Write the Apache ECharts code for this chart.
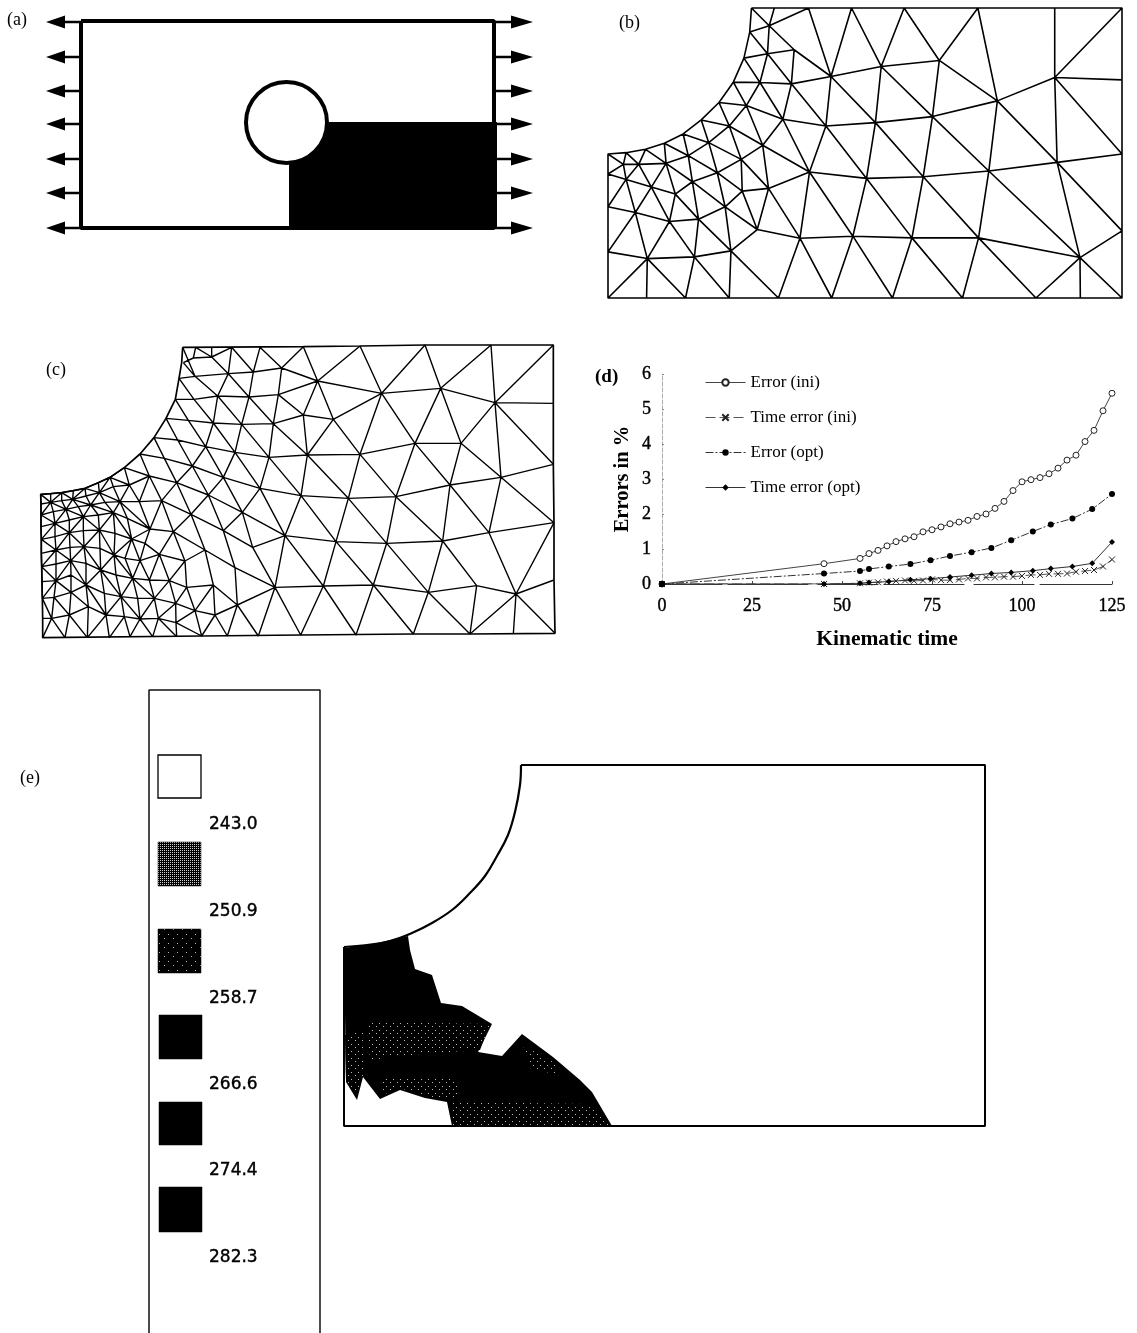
<!DOCTYPE html>
<html><head><meta charset="utf-8">
<style>html,body{margin:0;padding:0;background:#fff}#c{width:1137px;height:1333px}</style>
<script src="https://cdn.jsdelivr.net/npm/echarts@6/dist/echarts.min.js"></script>
</head><body><div id="c"></div>
<script>
// ---------- Panel (d) values ----------
const errorIni = [[0,0],[45,0.58],[55,0.73],[57.5,0.87],[60,0.96],[62.5,1.09],[65,1.21],[67.5,1.29],[70,1.35],[72.5,1.49],[75,1.55],[77.5,1.63],[80,1.72],[82.5,1.77],[85,1.82],[87.5,1.93],[90,2.0],[92.5,2.16],[95,2.36],[97.5,2.67],[100,2.92],[102.5,2.98],[105,3.04],[107.5,3.15],[110,3.31],[112.5,3.54],[115,3.68],[117.5,4.07],[120,4.39],[122.5,4.95],[125,5.45]];
const timeErrorIni = [[0,0],[45,0],[55,0.02],[57.5,0.04],[60,0.05],[62.5,0.07],[65,0.09],[67.5,0.1],[70,0.09],[72.5,0.1],[75,0.13],[77.5,0.11],[80,0.11],[82.5,0.13],[85,0.16],[87.5,0.16],[90,0.19],[92.5,0.19],[95,0.21],[97.5,0.21],[100,0.23],[102.5,0.26],[105,0.26],[107.5,0.29],[110,0.29],[112.5,0.3],[115,0.35],[117.5,0.37],[120,0.4],[122.5,0.5],[125,0.7]];
const errorOpt = [[0,0],[45,0.3],[55,0.37],[57.5,0.43],[63,0.5],[69,0.57],[74.6,0.68],[80,0.8],[86,0.91],[91.5,1.03],[97,1.25],[103,1.5],[108,1.7],[114,1.87],[119.5,2.14],[125,2.57]];
const timeErrorOpt = [[0,0],[45,0],[55,0.02],[57.5,0.04],[63,0.07],[69,0.12],[74.6,0.15],[80,0.2],[86,0.25],[91.5,0.3],[97,0.33],[103,0.38],[108,0.44],[114,0.5],[119.5,0.59],[125,1.2]];
const seriesNames = ['Error (ini)','Time error (ini)','Error (opt)','Time error (opt)'];

// ---------- Panel (a) drawing ----------
const plateOutline = [[81,21],[494,21],[494,228],[81,228],[81,21]];
const blackRegion = [[289,122],[497,122],[497,229],[289,229]];
const holeCircle = [286.5,122.5,40.5];
const arrowRows = [22,57,91,124,159,193,228];

// ---------- Panel (b) mesh ----------
const meshB = [
[[445,25],[1530,25],[1530,893],[25,893],[25,462],[78,458],[135,448],[190,430],[245,402],[298,360],[350,308],[392,247],[423,175],[440,97],[445,25]],
[[423,175],[492,162],[570,150]],
[[392,247],[470,248],[562,252],[678,230],[825,200],[995,182]],
[[1333,233],[1530,240]],
[[350,308],[430,317],[537,358],[663,378],[808,368],[975,350],[1165,303],[1333,233]],
[[298,360],[380,378],[478,436],[615,516],[782,535],[948,530],[1140,513],[1340,487],[1530,462]],
[[245,402],[320,428],[415,478],[495,565],[587,714],[680,893]],
[[190,430],[260,467],[345,518],[418,573],[462,688]],
[[445,25],[497,78],[570,150],[678,230],[808,368],[948,530],[1110,713],[1278,893]],
[[440,97],[492,162],[562,252],[663,378],[782,535],[915,713],[1063,893]],
[[423,175],[470,248],[537,358],[615,516],[742,708],[858,893]],
[[825,200],[975,350],[1140,513],[1407,772],[1530,893]],
[[995,182],[1165,303],[1340,487],[1530,692]],
[[1333,233],[1530,462]],
[[612,25],[678,230]],[[738,25],[678,230]],[[738,25],[825,200]],[[892,25],[825,200]],[[892,25],[995,182]],[[1108,25],[995,182]],[[1108,25],[1165,303]],
[[1333,25],[1333,233],[1340,487],[1407,772],[1408,893]],
[[1530,25],[1333,233]],
[[825,200],[808,368],[782,535],[742,708],[680,893]],
[[995,182],[975,350],[948,530],[915,713],[858,893]],
[[1165,303],[1140,513],[1110,713],[1063,893]],
[[678,230],[663,378],[615,516],[587,714],[524,893]],
[[570,150],[562,252],[537,358],[478,436],[415,478],[345,518],[272,545],[222,582]],
[[1530,692],[1407,772],[1278,893]],
[[478,436],[495,565],[462,688],[385,752],[524,893]],
[[462,688],[587,714],[742,708],[915,713],[1110,713],[1407,772]],
[[368,620],[462,688]],
[[415,478],[418,573],[368,620]],
[[418,573],[495,565],[615,516]],
[[380,378],[320,428],[260,467],[195,490],[115,493],[70,493],[25,522]],
[[430,317],[380,378]],[[470,248],[430,317]],[[492,162],[470,248]],[[497,78],[492,162]],[[512,25],[497,78]],[[612,25],[497,78],[440,97]],
[[392,247],[430,317],[478,436]],
[[350,308],[380,378],[415,478]],
[[298,360],[320,428],[345,518],[368,620],[385,752],[380,893]],
[[245,402],[260,467],[272,545],[290,657],[278,770],[252,893]],
[[190,430],[195,490],[222,582],[205,664],[140,775]],
[[135,448],[115,493],[152,561],[205,664],[278,770],[380,893]],
[[78,458],[70,493],[78,538],[105,637],[140,775],[138,893]],
[[25,462],[70,493]],
[[25,522],[78,538],[152,561],[222,582],[290,657],[385,752]],
[[25,620],[105,637],[205,664],[290,657],[368,620],[418,573]],
[[25,620],[78,538]],[[25,755],[105,637]],
[[25,755],[140,775],[278,770],[385,752]],
[[25,893],[140,775],[252,893]],
[[105,637],[152,561]],[[195,490],[152,561]],[[135,448],[195,490],[272,545],[368,620]],
[[78,458],[115,493],[78,538]]
];

// ---------- Panel (c) mesh ----------
const meshCFrame = [[458,22],[820,20],[990,18],[1185,15],[1383,15],[1570,15],[1570,190],[1570,373],[1572,548],[1572,720],[1575,880],[1320,882],[1150,882],[812,885],[515,888],[38,893],[38,835],[37,775],[36,725],[35,680],[34,640],[34,598],[33,560],[33,525],[33,492],[32,463],[62,461],[95,458],[130,452],[165,445],[205,428],[240,412],[283,383],[330,342],[372,293],[408,235],[436,178],[447,115],[455,68],[458,22]];
const meshCDense = [
[[32,463],[62,461],[95,458],[130,452],[165,445],[205,428],[240,412],[283,383]],
[[33,492],[62,487],[95,482],[128,478],[168,468],[208,458],[250,440],[298,435]],
[[33,525],[70,515],[108,508],[145,500],[182,495],[225,487],[270,485],[328,485]],
[[33,560],[75,550],[118,540],[160,530],[205,525],[250,518],[292,535],[360,567]],
[[34,598],[75,590],[118,578],[160,572],[208,570],[255,580],[305,597],[345,610]],
[[34,640],[78,630],[120,622],[162,620],[210,625],[252,645],[285,655],[330,662]],
[[35,680],[78,672],[122,662],[168,670],[212,690],[258,705],[308,715],[358,720]],
[[36,725],[78,722],[123,705],[168,735],[223,760],[273,770],[323,775],[373,775]],
[[37,775],[72,772],[123,757],[175,800],[228,825],[283,830],[330,837],[385,835]]
];
const meshCChains = [
[[447,115],[495,109],[595,101],[670,96],[755,84],[863,123],[1055,160],[1232,145],[1395,188],[1570,190]],
[[436,178],[492,178],[563,168],[657,171],[745,164],[863,123]],
[[745,164],[820,225],[910,238],[1055,160]],
[[408,235],[475,241],[550,249],[635,253],[730,251],[820,225]],
[[372,293],[443,300],[527,320],[615,337],[717,352],[832,345],[990,343],[1155,310],[1293,310]],
[[330,342],[403,355],[487,378],[580,412],[690,445],[813,467],[955,475],[1098,470],[1260,435],[1413,412],[1570,373]],
[[283,383],[358,408],[440,428],[535,465],[637,517],[765,587],[918,605],[1070,610],[1238,603],[1377,578],[1572,548]],
[[328,485],[395,482],[483,523],[580,572],[668,622],[765,587]],
[[360,567],[430,575],[525,630],[615,683],[735,742],[880,738],[1030,735],[1195,757],[1340,737],[1458,762],[1572,720]],
[[345,610],[388,643],[465,663],[525,630]],
[[330,662],[388,643]],
[[460,68],[490,54],[545,51],[605,22]],
[[497,22],[490,54],[460,68]],
[[497,22],[545,51],[595,101],[657,171],[730,251],[832,345],[955,475],[1070,610],[1195,757],[1320,882]],
[[458,22],[495,109],[563,168],[635,253],[717,352],[813,467],[918,605],[1030,735],[1150,882]],
[[460,68],[495,109]],[[545,22],[545,51]],
[[447,115],[492,178],[550,249],[615,337],[690,445],[765,587],[880,738],[978,885]],
[[436,178],[475,241],[527,320],[580,412],[637,517],[668,622],[735,742],[812,885]],
[[408,235],[443,300],[487,378],[535,465],[580,572],[615,683],[622,795],[685,888]],
[[372,293],[403,355],[440,428],[483,523],[525,630],[550,735],[622,795]],
[[330,342],[358,408],[395,482],[430,575],[465,663],[470,742]],
[[605,22],[595,101],[563,168],[550,249],[527,320],[487,378],[440,428],[395,482],[360,567]],
[[690,22],[670,96],[657,171],[635,253],[615,337],[580,412],[535,465],[483,523],[430,575],[388,643]],
[[605,22],[670,96]],
[[690,22],[755,84],[745,164],[730,251],[717,352],[690,445],[637,517],[580,572]],
[[820,20],[755,84]],
[[820,20],[863,123],[820,225],[832,345],[813,467],[765,587],[735,742],[685,888]],
[[863,123],[910,238],[990,343],[1098,470],[1238,603],[1340,737]],
[[990,18],[863,123]],
[[990,18],[1055,160],[1155,310],[1260,435],[1377,578],[1458,762],[1575,880]],
[[1185,15],[1055,160]],
[[1185,15],[1232,145],[1293,310],[1413,412],[1572,548]],
[[1383,15],[1232,145]],
[[1383,15],[1395,188],[1413,412],[1377,578]],
[[1570,15],[1395,188],[1293,310],[1260,435],[1238,603],[1195,757],[1150,882]],
[[1395,188],[1570,373]],
[[1232,145],[1155,310],[1098,470],[1070,610],[1030,735],[978,885]],
[[1055,160],[990,343],[955,475],[918,605],[880,738],[812,885]],
[[910,238],[832,345]],
[[1572,548],[1458,762],[1320,882]],
[[1458,762],[1450,882]],
[[1340,737],[1320,882]],
[[283,383],[298,435],[358,408]],[[328,485],[358,408]],[[360,567],[395,482]],
[[358,720],[388,643]],[[358,720],[418,722],[470,742],[550,735]],
[[373,775],[418,722]],[[373,775],[437,790],[495,812],[555,825],[622,795],[735,742]],
[[385,835],[437,790]],[[385,835],[438,848],[495,812],[550,735],[555,825]],
[[388,643],[418,722],[437,790],[470,742],[495,812],[515,888],[438,848],[440,890]],
[[465,663],[418,722]],[[437,790],[438,848]],
[[555,825],[515,888]],[[555,825],[592,888],[622,795]],
[[38,835],[65,835],[118,825],[175,800]],
[[37,775],[65,835],[38,893]],[[72,772],[65,835],[105,893],[118,825],[172,893],[175,800]],
[[72,772],[118,825],[123,757]],
[[228,825],[172,893]],[[228,825],[238,893],[283,830],[300,890],[330,837],[368,890],[385,835],[440,890]]
];

// ---------- Panel (e) drawing ----------
const legendSwatches = [[158,755,201,798],[158,842,201,886],[158,929,201,973],[159,1015,202,1059],[159,1102,202,1145],[159,1187,202,1232]];
const legendLabels = ['243.0','250.9','258.7','266.6','274.4','282.3'];
const legendLabelY = [825,912,999,1085,1171,1258];
const legendFrame = [[149,1333],[149,690],[320,690],[320,1333]];
const plateFrameE = [[521,765],[985,765],[985,1126],[344,1126],[344,947]];
const plateArcE = [[344,947],[367,945],[390,941],[412,933],[432,923],[452,910],[469,894],[485,876],[497,856],[508,835],[515,812],[520,785],[521,765]];
const contourRegion = [[344,948],[373,944],[408,936],[410,950],[415,969],[432,975],[441,1003],[462,1006],[492,1024],[478,1052],[502,1056],[522,1034],[553,1057],[580,1080],[592,1092],[612,1126],[452,1126],[447,1102],[425,1098],[400,1090],[380,1099],[363,1077],[357,1100],[346,1082]];
const speckleRegions = [
[[345,1035],[363,1030],[363,1075],[357,1095],[346,1080]],
[[367,1022],[490,1024],[480,1050],[420,1054],[370,1060]],
[[380,1078],[455,1076],[460,1100],[447,1100],[425,1096],[400,1088],[380,1096]],
[[452,1102],[590,1104],[610,1125],[453,1125]],
[[523,1045],[553,1062],[562,1076],[530,1068]]
];

const panelTags = [['(a)',7,20],['(b)',619,23],['(c)',46,370],['(e)',20,778]];
const boldTag = ['(d)',595,377];
const xTicks = [0,25,50,75,100,125];

// ---------- helpers ----------
function chainsToLine(chains){
  const out=[];
  chains.forEach(ch=>{ ch.forEach(p=>out.push(p)); out.push(['-','-']); });
  return out;
}
function denseChains(m){
  const out=m.map(r=>r);
  for(let c=0;c<m[0].length;c++) out.push(m.map(r=>r[c]));
  for(let r=0;r<m.length-1;r++) for(let c=0;c<m[0].length-1;c++){
    if((r+c)%2===0) out.push([m[r][c],m[r+1][c+1]]);
    else out.push([m[r+1][c],m[r][c+1]]);
  }
  return out;
}
function ditherPattern(size,dots,col){
  const cv=document.createElement('canvas'); cv.width=cv.height=size;
  const g=cv.getContext('2d'); g.fillStyle='#000'; g.fillRect(0,0,size,size);
  g.fillStyle=col||'#fff'; dots.forEach(d=>g.fillRect(d[0],d[1],1,1));
  return {image:cv,repeat:'repeat'};
}
const sparseDots = ditherPattern(7,[[1,1],[5,4]],'#bbb');
const faintDots = ditherPattern(9,[[2,2],[6,7]],'#bbb');
const denseDots = ditherPattern(2,[[0,0]],'#ccc');
function poly(points,fill,stroke,lw,z){
  return {type:'custom',coordinateSystem:'cartesian2d',xAxisIndex:0,yAxisIndex:0,silent:true,z:z||2,clip:false,
    data:[[points[0][0],points[0][1]]],encode:{x:0,y:1},
    renderItem:function(p,api){return {type:'polygon',shape:{points:points.map(q=>api.coord(q))},style:{fill:fill,stroke:stroke||null,lineWidth:lw||0}};}};
}
function outline(chains,xi,lw,z,color,smooth){
  return {type:'line',xAxisIndex:xi,yAxisIndex:xi,data:chainsToLine(chains),symbol:'none',silent:true,clip:false,z:z||3,smooth:smooth||false,
    lineStyle:{color:color||'#000',width:lw},connectNulls:false};
}
const arrowHeads=[];
arrowRows.forEach(y=>{
  arrowHeads.push([[46,y],[65,y-6.5],[65,y+6.5]]);
  arrowHeads.push([[533,y],[511,y-6.5],[511,y+6.5]]);
});
const arrowShafts=arrowRows.map(y=>[[60,y],[81,y]]).concat(arrowRows.map(y=>[[494,y],[515,y]]));

const serifAxisLabel={color:'#000',fontFamily:'Liberation Serif',fontSize:18,textBorderColor:'#000',textBorderWidth:0.4};
const crossPath='path://M1 1L9 9M9 1L1 9';

const series=[
  poly(blackRegion,'#000'),
  {type:'custom',coordinateSystem:'cartesian2d',xAxisIndex:0,yAxisIndex:0,silent:true,z:4,clip:false,
   data:[holeCircle],encode:{x:0,y:1},
   renderItem:function(p,api){const c=api.coord([api.value(0),api.value(1)]);
     return {type:'circle',shape:{cx:c[0],cy:c[1],r:api.size([api.value(2),0])[0]},style:{fill:'#fff',stroke:'#000',lineWidth:4}};}},
  outline([plateOutline],0,4,3),
  outline(arrowShafts,0,2.5,3)
];
arrowHeads.forEach(t=>series.push(poly(t,'#000')));
series.push(outline(meshB,1,1.6));
series.push(outline([meshCFrame],2,1.7));
series.push(outline(meshCChains.concat(denseChains(meshCDense)),2,1.4));
series.push(outline([legendFrame],0,1.5,3,'#111'));
legendSwatches.forEach((s,i)=>{
  const pts=[[s[0],s[1]],[s[2],s[1]],[s[2],s[3]],[s[0],s[3]]];
  const fill=i===0?'#fff':i===1?denseDots:i===2?faintDots:'#000';
  series.push(poly(pts,fill,'#000',i===0?1.3:0.5));
});
series.push(poly(contourRegion,'#000',null,0,2));
speckleRegions.forEach(r=>series.push(poly(r,sparseDots,null,0,2)));
series.push(outline([plateFrameE],0,2,4));
series.push(outline([plateArcE],0,2.2,4,'#000',0.4));
const dGrid=3;
series.push({name:seriesNames[0],type:'line',xAxisIndex:dGrid,yAxisIndex:dGrid,data:errorIni,symbol:'circle',symbolSize:6,
  lineStyle:{color:'#444',width:1},itemStyle:{color:'#fff',borderColor:'#222',borderWidth:1},z:5});
series.push({name:seriesNames[1],type:'line',xAxisIndex:dGrid,yAxisIndex:dGrid,data:timeErrorIni,symbol:crossPath,symbolSize:6,
  lineStyle:{color:'#555',width:1,type:[10,4]},itemStyle:{color:'none',borderColor:'#222',borderWidth:1},z:5});
series.push({name:seriesNames[2],type:'line',xAxisIndex:dGrid,yAxisIndex:dGrid,data:errorOpt,symbol:'circle',symbolSize:6,
  lineStyle:{color:'#333',width:1,type:[8,2,2,2]},itemStyle:{color:'#000',borderColor:'#000',borderWidth:0},z:5});
series.push({name:seriesNames[3],type:'line',xAxisIndex:dGrid,yAxisIndex:dGrid,data:timeErrorOpt,symbol:'diamond',symbolSize:6,
  lineStyle:{color:'#333',width:1},itemStyle:{color:'#000',borderColor:'#000',borderWidth:0},z:5});

function hiddenAxis(min,max,grid,inverse){
  return {type:'value',min:min,max:max,gridIndex:grid,inverse:!!inverse,show:false,splitLine:{show:false}};
}
const graphics=panelTags.map(t=>({type:'text',x:t[1],y:t[2],style:{text:t[0],font:'18px "Liberation Serif"',fill:'#000',verticalAlign:'middle'}}));
graphics.push({type:'text',x:boldTag[1],y:boldTag[2],style:{text:boldTag[0],font:'bold 19px "Liberation Serif"',fill:'#000',verticalAlign:'middle'}});
legendLabels.forEach((t,i)=>graphics.push({type:'text',x:209,y:legendLabelY[i],style:{text:t,font:'17px "DejaVu Sans"',fill:'#000',stroke:'#000',lineWidth:0.4,verticalAlign:'middle'}}));

const chart=echarts.init(document.getElementById('c'),null,{renderer:'canvas'});
chart.setOption({
  animation:false,
  backgroundColor:'#fff',
  grid:[
    {left:0,top:0,width:1137,height:1333},
    {left:608,top:8,width:514,height:290},
    {left:30,top:340,width:525,height:300},
    {left:662,top:374,width:450,height:210}
  ],
  xAxis:[
    hiddenAxis(0,1137,0),
    hiddenAxis(25,1530,1),
    hiddenAxis(0,1575,2),
    {type:'value',gridIndex:3,min:0,max:125,interval:25,
      name:'Kinematic time',nameLocation:'middle',nameGap:44,
      nameTextStyle:{fontFamily:'Liberation Serif',fontSize:21.5,fontWeight:'bold',color:'#000'},
      axisLine:{onZero:false,lineStyle:{color:'#333',width:1,type:[60,6,80,10]}},
      axisTick:{show:true,inside:true,length:3,lineStyle:{color:'#444'}},
      axisLabel:Object.assign({margin:13,formatter:v=>xTicks.includes(v)?String(v):''},serifAxisLabel),
      splitLine:{show:false}}
  ],
  yAxis:[
    hiddenAxis(0,1333,0,true),
    hiddenAxis(25,893,1,true),
    hiddenAxis(0,900,2,true),
    {type:'value',gridIndex:3,min:0,max:6,interval:1,
      name:'Errors in %',nameLocation:'middle',nameGap:29,nameRotate:90,
      nameTextStyle:{fontFamily:'Liberation Serif',fontSize:20.5,fontWeight:'bold',color:'#000'},
      axisLine:{show:true,lineStyle:{color:'#aaa',width:1,type:'dashed'}},
      axisTick:{show:true,inside:true,length:2,lineStyle:{color:'#888'}},
      axisLabel:Object.assign({margin:11},serifAxisLabel),
      splitLine:{show:false}}
  ],
  legend:{show:true,orient:'vertical',left:700,top:369,itemWidth:40,itemHeight:8,itemGap:18,
    data:seriesNames,textStyle:{fontFamily:'Liberation Serif',fontSize:17,color:'#000'},
    lineStyle:{width:1},selectedMode:false},
  graphic:graphics,
  series:series
});
</script></body></html>
